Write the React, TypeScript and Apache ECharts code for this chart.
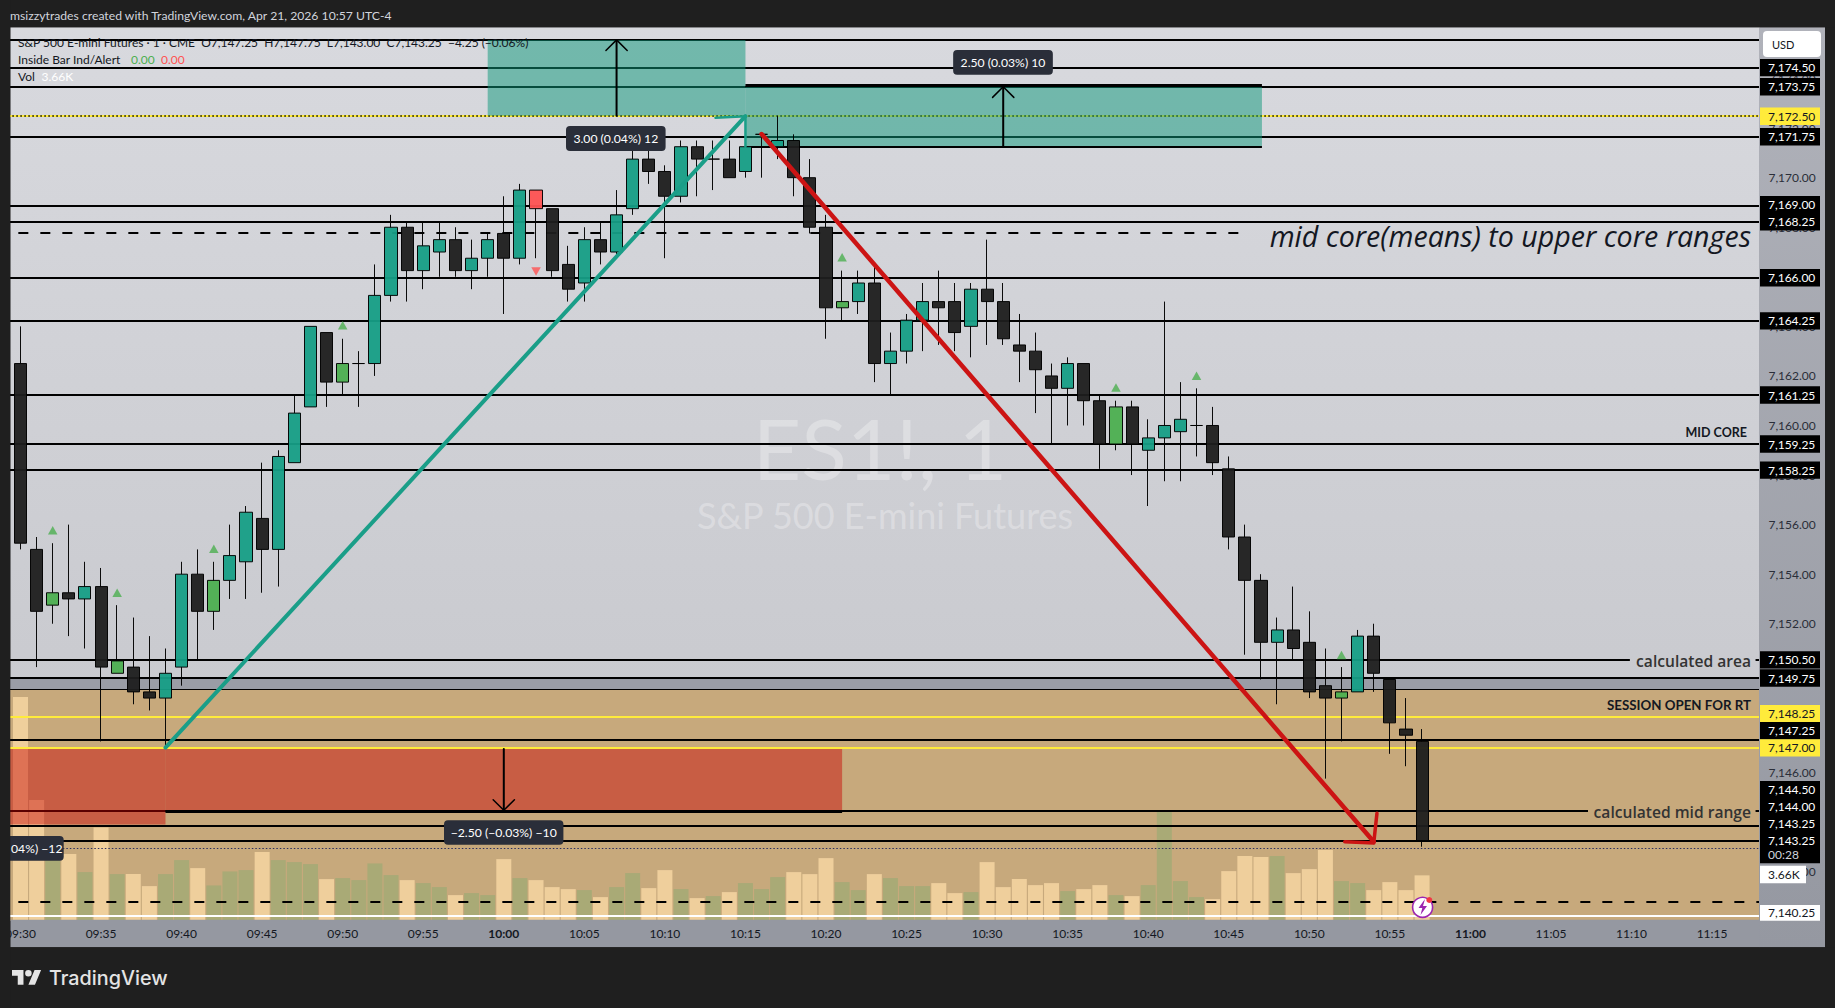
import React, { useEffect, useRef } from "react";
import * as echarts from "echarts";

// ---------- data ----------
const opens = [7162.5,7155,7152.75,7153.25,7153,7153.5,7150,7150.25,7149.25,7149,7150.25,7154,7152.5,7153.75,7154.5,7156.25,7155,7158.5,7160.75,7163.75,7161.75,7162.5,7162.5,7165.25,7168,7166.25,7167,7167.5,7166.25,7166.75,7167.75,7166.75,7169.5,7168.75,7166.5,7165.75,7167.5,7167,7168.75,7170.75,7170.25,7169.25,7171.25,7170.75,7170.75,7170.25,7171.75,7171.25,7171.5,7170,7168,7164.75,7165,7165.75,7162.5,7163,7164.25,7165,7165,7164,7165.5,7165,7163.25,7163,7162,7161.5,7162.5,7161,7159.25,7160.75,7159,7159.5,7159.75,7160,7160,7158.25,7155.5,7153.75,7151.25,7151.75,7151.25,7149.5,7149,7149.25,7151.5,7149.75,7147.75,7147.25];
const closes = [7155.25,7152.5,7153.25,7153,7153.5,7150.25,7150.5,7149.25,7149,7150,7154,7152.5,7153.75,7154.75,7156.5,7155,7158.75,7160.5,7164,7161.75,7162.5,7162.5,7165.25,7168,7166.25,7167.25,7167.5,7166.25,7166.75,7167.5,7166.75,7169.5,7168.75,7166.25,7165.5,7167.5,7167,7168.5,7170.75,7170.25,7169.25,7171.25,7170.75,7170.75,7170,7171.25,7171.75,7171.5,7170,7168,7164.75,7165,7165.75,7162.5,7163,7164.25,7165,7164.75,7163.75,7165.5,7165,7163.5,7163,7162.25,7161.5,7162.5,7161,7159.25,7160.75,7159.25,7159.5,7160,7160.25,7160,7158.5,7155.5,7153.75,7151.25,7151.75,7151,7149.25,7149,7149.25,7151.5,7150,7148,7147.5,7143.25];
const lows = [7155,7150.25,7152,7151.5,7151,7147.25,7150,7148.75,7148.5,7147,7149.5,7150.5,7151.75,7153,7153,7153.25,7153.5,7158.5,7160.75,7160.75,7161.25,7160.75,7162,7165,7165,7165.5,7166,7166,7165.5,7166,7164.5,7166.5,7166.75,7166,7165,7165,7166.5,7166.75,7168.5,7169.75,7166.75,7169,7169.25,7169.5,7170,7170,7170,7170.75,7169.25,7167.75,7163.5,7164.25,7164.5,7161.75,7161.25,7162.5,7163,7163.25,7163,7162.75,7163.25,7163.25,7161.75,7160.5,7159.25,7160,7160,7158.25,7159,7158,7156.75,7157.75,7157.75,7158.75,7158,7155,7150.75,7149.75,7148.75,7150.5,7149,7145.75,7147.25,7149.25,7149.25,7146.75,7146.25,7143];
const highs = [7164,7155.5,7155.25,7156,7154.5,7154.25,7152.75,7152.25,7151.5,7151,7154.5,7155,7154.5,7156,7156.75,7158.5,7159,7161.25,7164,7163.75,7163.5,7163,7166.5,7168.5,7168.25,7168.25,7168.25,7168,7167.5,7167.75,7169.25,7169.75,7169.5,7168.75,7167.25,7168,7168.25,7169.5,7171.25,7171.75,7170.5,7171.5,7171.5,7171.5,7171.5,7171.25,7171.75,7172.5,7171.75,7170.75,7168.5,7166.25,7166.25,7166.5,7163.75,7164.5,7165.75,7166.25,7165.75,7165.75,7167.5,7165.75,7164.5,7163.75,7162.5,7162.75,7162.5,7161.25,7161,7161,7160.25,7165,7161.75,7161.5,7160.75,7158.75,7156,7154,7152.25,7153.5,7152.5,7151,7150.25,7151.75,7152,7149.75,7149,7147.75];
const volumes = [17920,9680,5040,5360,3920,7494,3760,3760,2800,3760,4880,4240,2854,3974,4080,5520,4880,4720,4560,3360,3440,3280,4614,3680,3280,3040,2720,2080,2240,2080,4960,3440,3280,2720,2560,2480,1920,2720,3840,2640,4080,2560,1840,2000,2320,3040,2560,3520,3920,3760,5040,3120,2480,3760,3440,2800,2800,3040,2240,2320,4720,2720,3360,2880,3040,2400,2560,2880,2080,2000,2880,8720,3200,1920,1760,4000,5200,5120,5200,3840,4160,5680,3200,3040,2480,3120,2480,3660];
const brightGreenBars = [2,6,12,20,51,68,82];
const brightRedBars = [32];
const upSignals: [number, number][] = [[2,7155.77],[6,7153.25],[12,7155.03],[20,7164.05],[51,7166.79],[68,7161.53],[73,7162.01],[82,7150.74]];
const downSignals: [number, number][] = [[32,7166.21]];

const solidLevels = [7175.56,7174.44,7173.67,7171.65,7168.86,7168.22,7165.96,7164.22,7161.23,7159.25,7158.2,7149.81,7147.31,7143.85,7143.24];
const yellowLevels = [7148.25,7146.99,7172.48];
const tagLabels = ["7,174.50","7,173.75","7,172.50","7,171.75","7,169.00","7,168.25","7,166.00","7,164.25","7,161.25","7,159.25","7,158.25","7,150.50","7,149.75","7,148.25","7,147.25","7,147.00","7,144.50","7,144.00","7,143.25","7,143.25","00:28","3.66K","7,140.25"];
const tagPrices = [7174.44,7173.67,7172.48,7171.65,7168.91,7168.22,7165.96,7164.22,7161.23,7159.25,7158.2,7150.54,7149.81,7148.37,7147.68,7146.99,7145.3,7144.62,7143.93,7143.24,7142.68,7141.88,7140.33];
const tagKinds = ["k","k","y","k","k","k","k","k","k","k","k","k","k","y","k","y","k","k","k","k","t","s","w"];
// axis ticks that sit entirely behind a price tag in the picture
const coveredTicks = [7150, 7148, 7144, 7166];

const categories: string[] = [];
for (let m = 9 * 60 + 29; m < 9 * 60 + 29 + 110; m++) {
  categories.push(`${String(Math.floor(m / 60)).padStart(2, "0")}:${String(m % 60).padStart(2, "0")}`);
}

const FONT = "Lato, 'Noto Sans', sans-serif";
const NOTE_FONT = "'Open Sans', 'Noto Sans', sans-serif";
const BAND = 16.11;
const N = categories.length;
const GRID_LEFT = 20.5 - 1.5 * BAND;
const TMIN = -1.5, TMAX = N - 1.5;

const tan = "#c7a97c";
const lvl = (y: number, color = "#000", width = 2, type: any = "solid", a = TMIN, b = TMAX) => [
  { xAxis: a, yAxis: y, lineStyle: { color, width, type } },
  { xAxis: b, yAxis: y },
];
const area = (x1: number, y1: number, x2: number, y2: number, color: string) => [
  { xAxis: x1, yAxis: y1, itemStyle: { color } },
  { xAxis: x2, yAxis: y2 },
];
const poly = (name: string, data: number[][], color: string, width: number, z: number) => ({
  name, type: "line", xAxisIndex: 1, yAxisIndex: 0, data, symbol: "none", showSymbol: false,
  lineStyle: { color, width, cap: "round", join: "round" }, itemStyle: { color }, z, silent: true, clip: false,
});
const marker = (name: string, z: number, mark: any) => ({
  name, type: "line", xAxisIndex: 1, yAxisIndex: 0, data: [], symbol: "none", z, silent: true, ...mark,
});
const markLines = (items: any[], z: number) => ({
  markLine: { silent: true, symbol: "none", z, animation: false, label: { show: false }, emphasis: { disabled: true }, data: items },
});
const markAreas = (items: any[], z: number) => ({
  markArea: { silent: true, z, animation: false, label: { show: false }, emphasis: { disabled: true }, data: items },
});

const txt = (text: string, x: number, y: number, fill: string, fontSize: number, z: number, extra: any = {}) => ({
  type: "text", z, silent: true,
  style: { text, x, y, fill, fontSize, fontFamily: FONT, verticalAlign: "middle", align: "left", ...extra },
});
const toolTag = (text: string, cx: number, cy: number, w: number, h: number) => [
  { type: "rect", z: 26, silent: true, shape: { x: cx - w / 2, y: cy - h / 2, width: w, height: h, r: 4 }, style: { fill: "#2a2e39" } },
  txt(text, cx, cy, "#ffffff", 12.2, 27, { align: "center" }),
];

const TV_LOGO = "M14 22H7V11H0V4h14v18zM28 22h-8l7.5-18h8L28 22zM24 8a4 4 0 1 1-8 0 4 4 0 0 1 8 0z";
echarts.graphic.registerShape("tvlogo", echarts.graphic.extendPath(TV_LOGO, {}) as any);

export default function App() {
  const ref = useRef<HTMLDivElement>(null);
  useEffect(() => {
    document.body.style.margin = "0";
    document.body.style.background = "#1f1f1f";
    const chart = echarts.init(ref.current!, undefined, { renderer: "svg" });
    const candleData: any[] = [["-", "-", "-", "-"]];
    opens.forEach((o, i) => {
      const value = [o, closes[i], lows[i], highs[i]];
      if (brightGreenBars.includes(i)) candleData.push({ value, itemStyle: { color: "#4caf50" } });
      else if (brightRedBars.includes(i)) candleData.push({ value, itemStyle: { color0: "#ff5252" } });
      else candleData.push(value);
    });
    const volumeData: any[] = ["-"];
    volumes.forEach((v, i) => {
      volumeData.push({ value: v, itemStyle: { color: closes[i] >= opens[i] ? "#a9aa76" : "#efcf9c" } });
    });

    const series: any[] = [
      marker("session zone", 1, markAreas([
        area(TMIN, 7149.81, TMAX, 7149.35, "#9a9da6"),
        area(TMIN, 7149.35, TMAX, 7140, tan),
      ], 1)),
      { name: "Vol", type: "bar", xAxisIndex: 0, yAxisIndex: 1, data: volumeData, barWidth: 15, z: 2, silent: true },
      marker("levels", 3, markLines([
        ...solidLevels.map((v) => lvl(v)),
        lvl(7150.54, "#000", 2, "solid", TMIN, 99.9), lvl(7150.54, "#000", 2, "solid", 107.7, TMAX),
        lvl(7144.45, "#000", 2, "solid", TMIN, 97.3), lvl(7144.45, "#000", 2, "solid", 107.7, TMAX),
        lvl(7149.35, "#000", 1),
        ...yellowLevels.map((v) => lvl(v, "#ffeb3b", 2)),
        lvl(7172.48, "#000", 1.5, [1.5, 2.5]),
        lvl(7142.95, "#2a2e60", 1, [1.5, 2]),
        lvl(7167.77, "#000", 2, [10, 12], TMIN, 76.0),
        lvl(7140.77, "#000", 2, [10, 12]),
        lvl(7140.22, "#ffffff", 2),
      ], 3)),
      marker("zones", 4, markAreas([
        area(29, 7175.56, 45, 7172.5, "rgba(11,152,121,0.5)"),
        area(45, 7173.67, 77.06, 7171.25, "rgba(11,152,121,0.5)"),
        area(TMIN, 7146.95, 9, 7143.9, "rgba(201,0,0,0.45)"),
        area(9, 7146.95, 51, 7144.45, "rgba(201,0,0,0.45)"),
      ], 4)),
      marker("zone borders", 5, markLines([
        lvl(7173.72, "#000", 3, "solid", 45, 77.06),
        lvl(7171.25, "#000", 2, "solid", 45, 77.06),
        lvl(7144.45, "#000", 3, "solid", 9, 51),
      ], 5)),
      {
        name: "ES1!", type: "candlestick", xAxisIndex: 0, yAxisIndex: 0, data: candleData, barWidth: 12.6, z: 6, silent: true,
        itemStyle: { color: "#169e86", color0: "#1e1e1e", borderColor: "#000", borderColor0: "#000", borderColorDoji: "#000", borderWidth: 1, opacity: 0.95 },
      },
      {
        name: "Inside bar up", type: "scatter", xAxisIndex: 1, yAxisIndex: 0, data: upSignals, symbol: "triangle",
        symbolSize: [9.5, 8.5], itemStyle: { color: "#4caf50" }, z: 6, silent: true,
      },
      {
        name: "Inside bar down", type: "scatter", xAxisIndex: 1, yAxisIndex: 0, data: downSignals, symbol: "triangle", symbolRotate: 180,
        symbolSize: [9.5, 8.5], itemStyle: { color: "#ff5252" }, z: 6, silent: true,
      },
      poly("long arrow", [[9, 7147], [45, 7172.48]], "#1a9e88", 4, 7),
      poly("long arrow head", [[43.14, 7172.42], [45, 7172.48], [45, 7171.25]], "#1a9e88", 2.5, 7),
      poly("short arrow", [[46, 7171.76], [84, 7143.2]], "#cc1414", 4.5, 7),
      poly("short arrow head", [[84.2, 7144.35], [84, 7143.15], [82.2, 7143.2]], "#cc1414", 3.5, 7),
      poly("measure up 1", [[37, 7172.5], [37, 7175.56]], "#000", 2, 8),
      poly("measure up 1 head", [[36.34, 7175.13], [37, 7175.56], [37.66, 7175.13]], "#000", 1.5, 8),
      poly("measure up 2", [[61, 7171.25], [61, 7173.67]], "#000", 2, 8),
      poly("measure up 2 head", [[60.34, 7173.24], [61, 7173.67], [61.66, 7173.24]], "#000", 1.5, 8),
      poly("measure down", [[30, 7146.95], [30, 7144.47]], "#000", 2, 8),
      poly("measure down head", [[29.34, 7144.9], [30, 7144.47], [30.66, 7144.9]], "#000", 1.5, 8),
      {
        name: "price tags", type: "custom", xAxisIndex: 1, yAxisIndex: 0, z: 32, silent: true, clip: false,
        data: tagPrices.map((p) => [0, p]), encode: { x: 0, y: 1 },
        renderItem: (params: any, api: any) => {
          const y = api.coord([0, api.value(1)])[1];
          const k = tagKinds[params.dataIndex];
          const fill = k === "y" ? "#ffeb3b" : k === "w" || k === "s" ? "#ffffff" : "#000000";
          const fg = k === "y" || k === "w" || k === "s" ? "#131722" : k === "t" ? "#d1d4dc" : "#ffffff";
          const h = k === "w" ? 15.7 : k === "t" ? 17 : 17.4;
          return {
            type: "group",
            children: [
              { type: "rect", shape: { x: 1760, y: y - h / 2, width: k === "s" ? 46 : 60, height: h }, style: { fill } },
              { type: "text", style: { text: tagLabels[params.dataIndex], x: 1768, y, fill: fg, fontSize: 12, fontFamily: FONT, verticalAlign: "middle" } },
            ],
          };
        },
      },
    ];

    const graphic: any[] = [
      { type: "rect", z: 0, silent: true, shape: { x: 10.3, y: 27.3, width: 1749, height: 892.4 },
        style: { fill: new echarts.graphic.LinearGradient(0, 0, 0, 1, [{ offset: 0, color: "#d8d9de" }, { offset: 1, color: "#c4c5ca" }]) } },
      txt("ES1!, 1", 880, 447, "rgba(255,255,255,0.3)", 84, 0.5, { align: "center" }),
      txt("S&P 500 E-mini Futures", 885, 515, "rgba(255,255,255,0.3)", 36, 0.5, { align: "center" }),
      // frame and axis panels
      { type: "rect", z: 30, silent: true, shape: { x: 1759, y: 27.3, width: 66, height: 920 },
        style: { fill: new echarts.graphic.LinearGradient(0, 0, 0, 1, [{ offset: 0, color: "#b0b2ba" }, { offset: 1, color: "#9598a1" }]) } },
      { type: "rect", z: 30, silent: true, shape: { x: 10.3, y: 919.7, width: 1749, height: 27.5 }, style: { fill: "#9598a1" } },
      { type: "rect", z: 30, silent: true, shape: { x: 1825, y: 0, width: 10, height: 1008 }, style: { fill: "#1f1f1f" } },
      { type: "rect", z: 35, silent: true, shape: { x: 0, y: 0, width: 10.3, height: 1008 }, style: { fill: "#1f1f1f" } },
      { type: "rect", z: 30, silent: true, shape: { x: 0, y: 947.2, width: 1835, height: 61 }, style: { fill: "#1f1f1f" } },
      { type: "rect", z: 30, silent: true, shape: { x: 0, y: 0, width: 1835, height: 27.3 }, style: { fill: "#1f1f1f" } },
      // header & legend
      txt("msizzytrades created with TradingView.com, Apr 21, 2026 10:57 UTC-4", 10, 15, "#d1d4dc", 12.2, 36),
      txt("S&P 500 E-mini Futures · 1 · CME  O7,147.25  H7,147.75  L7,143.00  C7,143.25  −4.25 (−0.06%)", 18, 42, "#131722", 12, 26),
      txt("Inside Bar Ind/Alert", 18, 59, "#131722", 12, 26),
      txt("0.00", 131, 59, "#4caf50", 12, 26),
      txt("0.00", 161, 59, "#ff5252", 12, 26),
      txt("Vol", 18, 76, "#131722", 12, 26),
      txt("3.66K", 41.5, 76, "#ffffff", 12, 26),
      // USD button
      { type: "rect", z: 31, silent: true, shape: { x: 1763, y: 31, width: 58, height: 26, r: 4 }, style: { fill: "#ffffff" } },
      txt("USD", 1772, 44, "#131722", 11, 33),
      // drawing-tool labels
      ...toolTag("3.00 (0.04%) 12", 615.8, 138.5, 99.6, 25),
      ...toolTag("2.50 (0.03%) 10", 1003, 62.3, 99.7, 24.7),
      ...toolTag("−2.50 (−0.03%) −10", 503.7, 832.5, 119.4, 24.4),
      { type: "rect", z: 26, silent: true, shape: { x: 0, y: 836, width: 63.7, height: 24.7, r: 4 }, style: { fill: "#2a2e39" } },
      txt("04%) −12", 11, 848.5, "#ffffff", 12.2, 27),
      // chart notes
      txt("mid core(means) to upper core ranges", 1751, 235, "#131722", 28.6, 26, { align: "right", fontStyle: "italic", fontFamily: NOTE_FONT }),
      txt("MID CORE", 1747, 432, "#131722", 12.5, 26, { align: "right", fontWeight: "bold" }),
      txt("calculated area", 1751, 660.7, "#333333", 15.6, 26, { align: "right", fontWeight: 600, fontFamily: NOTE_FONT }),
      txt("SESSION OPEN FOR RT", 1751, 705, "#131722", 13.3, 26, { align: "right", fontWeight: "bold" }),
      txt("calculated mid range", 1751, 812, "#333333", 15.6, 26, { align: "right", fontWeight: 600, fontFamily: NOTE_FONT }),
      // live button
      { type: "circle", z: 28, silent: true, shape: { cx: 1422.6, cy: 907.3, r: 10 }, style: { fill: "#ffffff", stroke: "#9c27b0", lineWidth: 1.6 } },
      { type: "polygon", z: 29, silent: true, shape: { points: [[1425, 899], [1418.5, 908], [1422.3, 908], [1420.5, 915], [1427, 906], [1423, 906]] }, style: { fill: "#9c27b0" } },
      { type: "circle", z: 29, silent: true, shape: { cx: 1429.3, cy: 900, r: 3 }, style: { fill: "#f23645" } },
      // logo
      { type: "tvlogo", z: 36, silent: true, x: 12, y: 966.7, scaleX: 0.82, scaleY: 0.82, style: { fill: "#e4e4e4" } },
      txt("TradingView", 49, 977.5, "#e4e4e4", 19.8, 36, { fontWeight: 500, fontFamily: "Inter, Lato, sans-serif" }),
    ];

    chart.setOption({
      animation: false,
      backgroundColor: "#1f1f1f",
      tooltip: { show: false },
      grid: { left: GRID_LEFT, top: 29, width: BAND * N, height: 892.1, containLabel: false, outerBoundsMode: "none" },
      xAxis: [
        {
          type: "category", data: categories, boundaryGap: true, z: 31, position: "bottom",
          axisLine: { show: false }, axisTick: { show: false }, splitLine: { show: false },
          axisLabel: {
            show: true, margin: 6, hideOverlap: false, fontSize: 12, fontFamily: FONT, color: "#131722",
            interval: (_i: number, v: string) => Number(v.slice(3)) % 5 === 0,
            formatter: (v: string) => (v.endsWith(":00") ? `{h|${v}}` : v),
            rich: { h: { fontWeight: "bold", fontSize: 12, fontFamily: FONT, color: "#131722" } },
          },
        },
        { type: "value", min: TMIN, max: TMAX, show: false },
      ],
      yAxis: [
        {
          type: "value", min: 7140, max: 7176, interval: 2, position: "right", z: 31, scale: true,
          axisLine: { show: false }, axisTick: { show: false }, splitLine: { show: false },
          axisLabel: {
            margin: 0, align: "left", fontSize: 12, fontFamily: FONT, color: "#2a2e39",
            showMinLabel: false, showMaxLabel: false,
            formatter: (v: number) => coveredTicks.includes(v) ? "" : v.toLocaleString("en-US", { minimumFractionDigits: 2, maximumFractionDigits: 2 }),
          },
        },
        { type: "value", min: 0, max: 71368, show: false },
      ],
      graphic,
      series,
    });
    return () => chart.dispose();
  }, []);
  return <div ref={ref} style={{ width: 1835, height: 1008 }} />;
}
